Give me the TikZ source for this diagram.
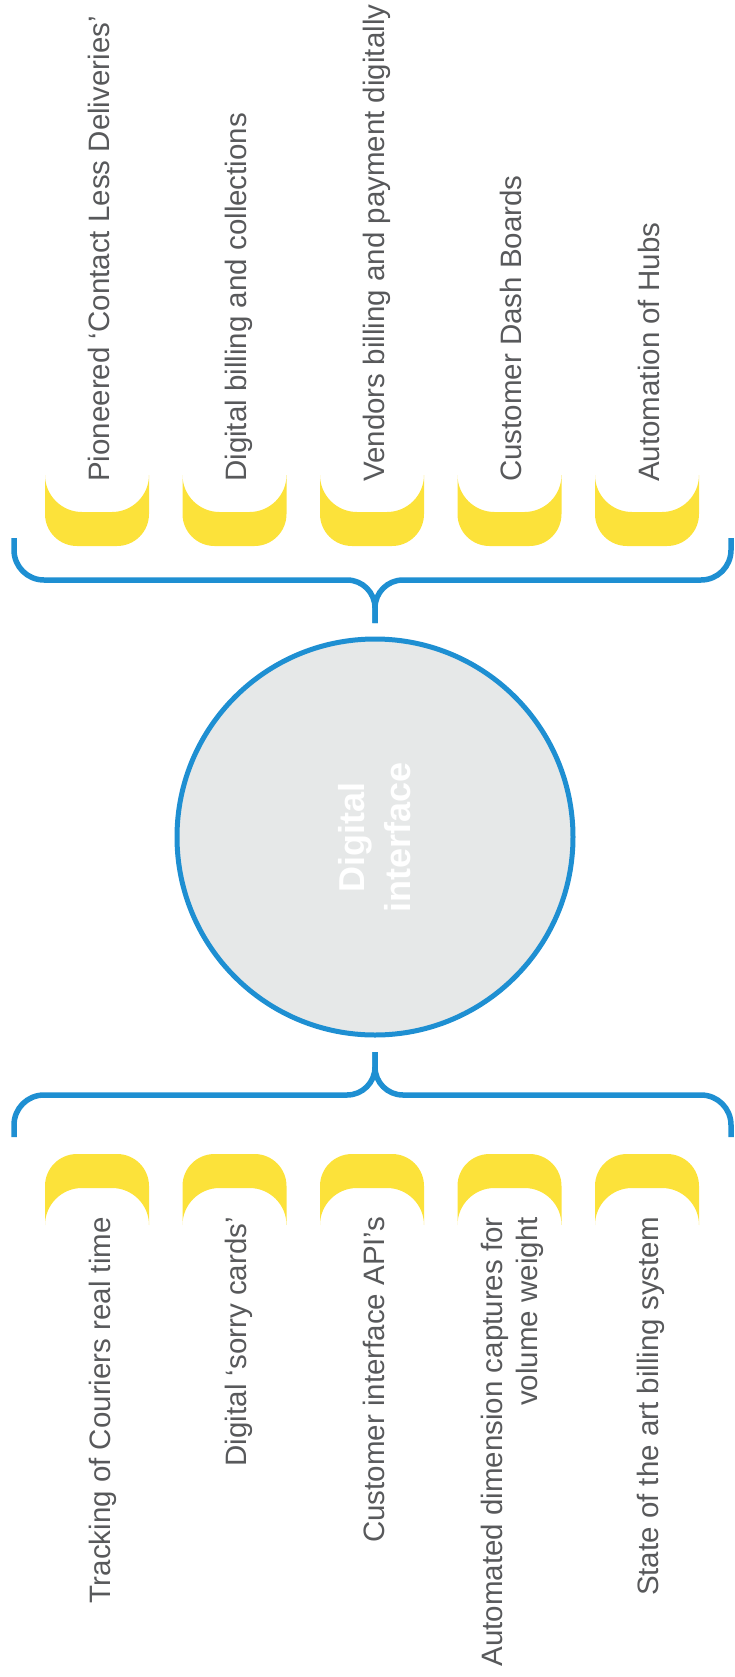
\documentclass[tikz,border=0pt]{standalone}
\usepackage{fontspec}
\setmainfont{Liberation Sans}
\definecolor{bluebr}{HTML}{1E8FD2}
\definecolor{tabyellow}{HTML}{FCE23A}
\definecolor{hubfill}{HTML}{E6E8E8}
\definecolor{txtgray}{HTML}{58595B}
\tikzset{
  lbl/.style={font=\fontsize{29.5}{35.4}\selectfont, text=txtgray, inner sep=0pt, rotate=90},
  bracepath/.style={draw=bluebr, line width=5.5pt, line join=round},
  tabfill/.style={fill=tabyellow, draw=none},
  hubnode/.style={circle, fill=hubfill, draw=bluebr, line width=5pt, minimum size=396pt, inner sep=0pt,
                  font=\fontsize{36}{46}\selectfont\bfseries, text=white, align=center, rotate=90}
}
\begin{document}
\begin{tikzpicture}[x=1pt,y=-1pt]
\useasboundingbox (0,0) rectangle (734,1677);

% hub
\node[hubnode] (hub) at (375,837) {Digital\\interface};

% top brace
\coordinate (ttip) at (375,623);
\coordinate (tl) at (14,538);
\coordinate (tr) at (731,538);
\draw[bracepath] (tl) -- (14,550) .. controls (14,566.6) and (27.4,580) .. (44,580)
  -- (347,580) .. controls (362.5,580) and (375,592.5) .. (375,608) -- (ttip);
\draw[bracepath] (ttip) -- (375,608) .. controls (375,592.5) and (387.5,580) .. (403,580)
  -- (701,580) .. controls (717.6,580) and (731,566.6) .. (731,550) -- (tr);

% bottom brace
\coordinate (btip) at (375,1052);
\coordinate (bl) at (14,1137);
\coordinate (br) at (731,1137);
\draw[bracepath] (bl) -- (14,1125) .. controls (14,1108.4) and (27.4,1095) .. (44,1095)
  -- (347,1095) .. controls (362.5,1095) and (375,1082.5) .. (375,1067) -- (btip);
\draw[bracepath] (btip) -- (375,1067) .. controls (375,1082.5) and (387.5,1095) .. (403,1095)
  -- (701,1095) .. controls (717.6,1095) and (731,1108.4) .. (731,1125) -- (br);

% top tabs
\foreach \c in {97,234.5,372,509.5,647}{
  \fill[tabfill] ({\c-52},475) -- ({\c-52},514) .. controls ({\c-52},531.7) and ({\c-37.7},546) .. ({\c-20},546)
    -- ({\c+20},546) .. controls ({\c+37.7},546) and ({\c+52},531.7) .. ({\c+52},514)
    -- ({\c+52},475) .. controls ({\c+52},495.4) and ({\c+35.4},512) .. ({\c+15},512)
    -- ({\c-15},512) .. controls ({\c-35.4},512) and ({\c-52},495.4) .. ({\c-52},475) -- cycle;
  \fill[tabfill] ({\c-52},1225) -- ({\c-52},1186) .. controls ({\c-52},1168.3) and ({\c-37.7},1154) .. ({\c-20},1154)
    -- ({\c+20},1154) .. controls ({\c+37.7},1154) and ({\c+52},1168.3) .. ({\c+52},1186)
    -- ({\c+52},1225) .. controls ({\c+52},1204.6) and ({\c+35.4},1188) .. ({\c+15},1188)
    -- ({\c-15},1188) .. controls ({\c-35.4},1188) and ({\c-52},1204.6) .. ({\c-52},1225) -- cycle;
}

% top labels
\node[lbl, anchor=base west] (p1) at (109,482) {Pioneered ‘Contact Less Deliveries’};
\node[lbl, anchor=base west] (p2) at (246.5,482) {Digital billing and collections};
\node[lbl, anchor=base west] (p3) at (384,482) {Vendors billing and payment digitally};
\node[lbl, anchor=base west] (p4) at (521.5,482) {Customer Dash Boards};
\node[lbl, anchor=base west] (p5) at (659,482) {Automation of Hubs};

% bottom labels
\node[lbl, anchor=base east] (q1) at (110,1217) {Tracking of Couriers real time};
\node[lbl, anchor=base east] (q2) at (246,1217) {Digital ‘sorry cards’};
\node[lbl, anchor=base east] (q3) at (384,1217) {Customer interface API’s};
\node[lbl, anchor=north east, align=right] (q4) at (481,1217) {Automated dimension captures for\\volume weight};
\node[lbl, anchor=base east] (q5) at (658,1217) {State of the art billing system};
\end{tikzpicture}
\end{document}
